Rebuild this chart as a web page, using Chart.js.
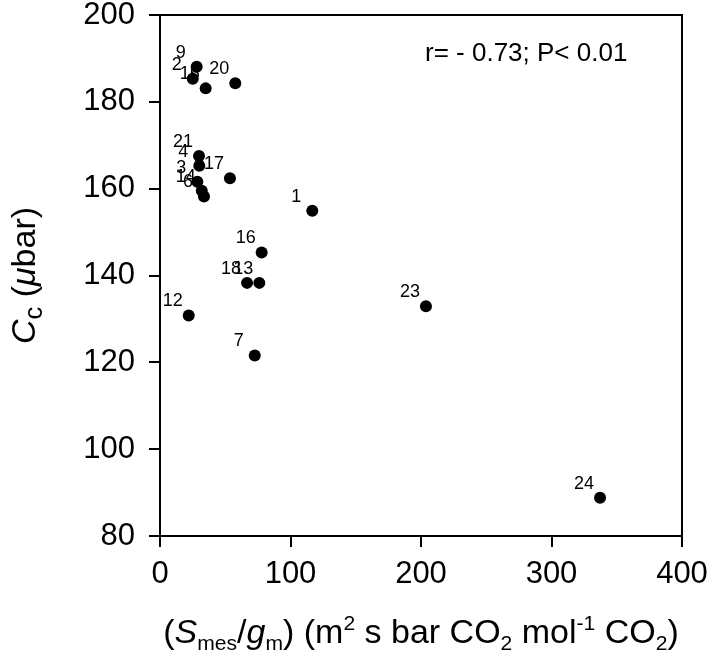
<!DOCTYPE html>
<html>
<head>
<meta charset="utf-8">
<script src="https://cdn.jsdelivr.net/npm/chart.js@4.4.1/dist/chart.umd.min.js"></script>
<style>
  html, body { margin: 0; padding: 0; background: #fff; }
  #wrap { width: 711px; height: 671px; }
</style>
</head>
<body>
<div id="wrap"><canvas id="chartCc" width="711" height="671"></canvas></div>
<script>
// point numbers, S_mes/g_m (x) and Cc (y)
const pointLabels = ['9', '2', '15', '20', '21', '4', '17', '3', '14', '6', '1', '16', '18', '13', '12', '7', '23', '24'];
const xValues = [28.1, 25.1, 35.0, 57.7, 29.9, 30.1, 53.6, 28.6, 32.0, 33.7, 116.7, 77.9, 66.7, 76.1, 22.0, 72.6, 203.8, 337.2];
const yValues = [188.1, 185.3, 183.1, 184.3, 167.5, 165.3, 162.4, 161.6, 159.5, 158.2, 154.9, 145.3, 138.3, 138.3, 130.8, 121.6, 132.9, 88.8];
const xTicks = [0, 100, 200, 300, 400];
const yTicks = [80, 100, 120, 140, 160, 180, 200];
const statText = 'r= - 0.73; P< 0.01';

const FONT = '"Liberation Sans", Arial, sans-serif';

// draws a run of pieces like {t, it, sub, sup} one after the other
function richText(ctx, parts, x, y, size, small) {
    let cx = x;
    parts.forEach(p => {
        const s = (p.sub || p.sup) ? size * small : size;
        ctx.font = (p.it ? 'italic ' : '') + s + 'px ' + FONT;
        let dy = 0;
        if (p.sub) dy = size * 0.22;
        if (p.sup) dy = -size * 0.38;
        ctx.fillText(p.t, cx, y + dy);
        cx += ctx.measureText(p.t).width;
    });
    return cx - x;
}
function richWidth(ctx, parts, size, small) {
    let w = 0;
    parts.forEach(p => {
        const s = (p.sub || p.sup) ? size * small : size;
        ctx.font = (p.it ? 'italic ' : '') + s + 'px ' + FONT;
        w += ctx.measureText(p.t).width;
    });
    return w;
}

const xTitle = [
    {t: '('}, {t: 'S', it: true}, {t: 'mes', sub: true}, {t: '/'}, {t: 'g', it: true}, {t: 'm', sub: true},
    {t: ') (m'}, {t: '2', sup: true}, {t: ' s bar CO'}, {t: '2', sub: true}, {t: ' mol'}, {t: '-1', sup: true},
    {t: ' CO'}, {t: '2', sub: true}, {t: ')'}
];
const yTitle = [{t: 'C', it: true}, {t: 'c', sub: true}, {t: ' ('}, {t: 'μ', it: true}, {t: 'bar)'}];

const extras = {
    id: 'extras',
    afterDatasetsDraw(chart) {
        const ctx = chart.ctx;
        const a = chart.chartArea;
        ctx.save();
        // box round the plot
        ctx.strokeStyle = '#000';
        ctx.lineWidth = 2;
        ctx.strokeRect(a.left, a.top, a.right - a.left, a.bottom - a.top);

        ctx.fillStyle = '#000';
        ctx.textBaseline = 'alphabetic';
        // point numbers, up and left of each dot
        ctx.font = '18px ' + FONT;
        ctx.textAlign = 'center';
        chart.getDatasetMeta(0).data.forEach((pt, i) => {
            ctx.fillText(pointLabels[i], pt.x - 16, pt.y - 9);
        });

        // statistic
        ctx.textAlign = 'left';
        ctx.font = '26px ' + FONT;
        ctx.fillText(statText, 425, 61);

        // x title
        const xs = 34;
        const xw = richWidth(ctx, xTitle, xs, 0.62);
        richText(ctx, xTitle, (a.left + a.right) / 2 - xw / 2, 643, xs, 0.62);

        // y title
        const ys = 34;
        const yw = richWidth(ctx, yTitle, ys, 0.75);
        ctx.translate(35, (a.top + a.bottom) / 2);
        ctx.rotate(-Math.PI / 2);
        richText(ctx, yTitle, -yw / 2, 0, ys, 0.75);
        ctx.restore();
    }
};

// drop the extra room chart.js keeps for edge labels, the layout padding sets it
function noEdgePadding(s) {
    s.paddingTop = 0;
    s.paddingBottom = 0;
    s.paddingLeft = 0;
    s.paddingRight = 0;
}

new Chart(document.getElementById('chartCc').getContext('2d'), {
    type: 'scatter',
    data: {
        datasets: [{
            data: xValues.map((x, i) => ({x: x, y: yValues[i]})),
            backgroundColor: '#000',
            borderWidth: 0,
            pointRadius: 6,
            pointHoverRadius: 6
        }]
    },
    options: {
        responsive: false,
        animation: false,
        devicePixelRatio: 1,
        layout: {
            padding: {top: 15, right: 29, left: 0, bottom: 0}
        },
        plugins: {
            legend: {display: false},
            tooltip: {enabled: false}
        },
        scales: {
            x: {
                type: 'linear',
                min: 0,
                max: 400,
                afterBuildTicks: s => { s.ticks = xTicks.map(v => ({value: v})); },
                afterFit: s => { s.height = 135; noEdgePadding(s); },
                ticks: {
                    color: '#000',
                    padding: 12,
                    maxRotation: 0,
                    font: {family: FONT, size: 31, lineHeight: 1}
                },
                grid: {drawOnChartArea: false, drawTicks: true, tickLength: 11, color: '#000', lineWidth: 2},
                border: {color: '#000', width: 2}
            },
            y: {
                type: 'linear',
                min: 80,
                max: 200,
                afterBuildTicks: s => { s.ticks = yTicks.map(v => ({value: v})); },
                afterFit: s => { s.width = 160; noEdgePadding(s); },
                ticks: {
                    color: '#000',
                    padding: 14,
                    font: {family: FONT, size: 31, lineHeight: 1}
                },
                grid: {drawOnChartArea: false, drawTicks: true, tickLength: 11, color: '#000', lineWidth: 2},
                border: {color: '#000', width: 2}
            }
        }
    },
    plugins: [extras]
});
</script>
</body>
</html>
